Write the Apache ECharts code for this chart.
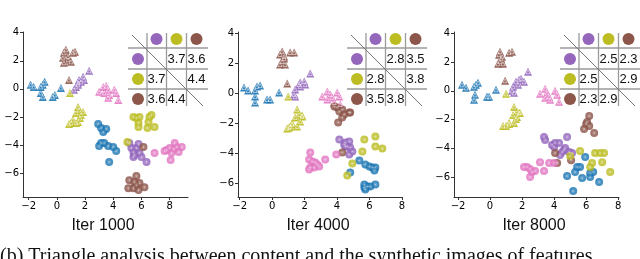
<!DOCTYPE html>
<html>
<head>
<meta charset="utf-8">
<script src="https://cdn.jsdelivr.net/npm/echarts@6/dist/echarts.min.js"></script>
<style>html,body{margin:0;padding:0;background:#fff;}#c{width:640px;height:259px;}</style>
</head>
<body>
<div id="c"></div>
<script>
// ---------- Tick labels ----------
const xTicks = [-2, 0, 2, 4, 6, 8];
const yTicks = [-6, -4, -2, 0, 2, 4];
const titles = ['Iter 1000', 'Iter 4000', 'Iter 8000'];
const caption = '(b) Triangle analysis between content and the synthetic images of features';

// ---------- Iter 1000 ----------
const p1BlueTri = [[-1.86,0.29],[-1.64,0.14],[-1.14,0.14],[-1.0,0.29],[-0.86,0.5],[-1.14,-0.29],[-1.0,-0.57],[-0.29,-0.57],[-0.14,-0.43],[0.29,0.07]];
const p1PurpleTri = [[2.29,1.29],[1.86,0.86],[1.57,0.64],[1.71,0.5],[1.5,0.29],[1.36,0.14],[1.21,-0.07],[1.93,0.64],[1.5,0.43]];
const p1BrownTri = [[0.5,2.57],[0.64,2.79],[0.43,2.21],[0.79,2.29],[0.5,1.86],[1.0,1.93],[1.14,2.57],[1.29,2.64],[0.79,2.07],[0.86,0.64]];
const p1OliveTri = [[0.93,-0.29],[1.5,-1.29],[1.57,-1.5],[1.36,-1.71],[1.71,-1.86],[1.86,-1.64],[1.5,-2.36],[1.36,-2.43],[1.14,-2.21],[1.0,-2.43],[0.86,-2.5],[1.64,-2.07]];
const p1PinkTri = [[3.0,-0.21],[3.29,0.14],[3.5,0.21],[3.64,-0.07],[3.71,-0.43],[3.64,-0.64],[4.07,-0.07],[4.21,-0.29],[4.36,-0.79],[3.36,-0.29]];
const p1BlueCir = [[2.93,-2.5],[3.14,-2.79],[3.29,-3.07],[3.5,-2.86],[3.14,-3.86],[3.36,-3.86],[3.64,-4.07],[4.0,-4.14],[4.21,-4.43],[3.0,-4.07],[3.71,-5.21]];
const p1PurpleCir = [[5.14,-3.86],[5.79,-3.93],[5.43,-4.5],[5.5,-4.71],[5.64,-4.21],[5.86,-4.57],[6.0,-4.86],[5.43,-4.86],[6.36,-5.21],[5.29,-4.21]];
const p1BrownCir = [[6.14,-4.14],[5.64,-6.21],[5.14,-6.5],[5.86,-6.71],[5.64,-6.86],[5.43,-7.07],[5.79,-7.21],[5.07,-7.07],[6.21,-7.0],[5.5,-6.64]];
const p1OliveCir = [[5.43,-2.0],[5.64,-2.07],[5.79,-2.43],[5.79,-2.71],[6.57,-2.0],[6.5,-2.36],[6.43,-2.79],[6.93,-2.71],[6.71,-1.86],[5.86,-2.0],[5.0,-3.79]];
const p1PinkCir = [[6.93,-4.57],[7.79,-4.36],[8.0,-4.21],[8.36,-3.86],[8.5,-4.14],[8.64,-4.5],[8.86,-4.14],[8.14,-4.57],[8.07,-5.07],[7.64,-4.43],[8.29,-4.29]];
const p1Table = [[null,'3.7','3.6'],['3.7',null,'4.4'],['3.6','4.4',null]];

// ---------- Iter 4000 ----------
const p2BlueTri = [[-1.73,0.4],[-1.48,0.2],[-1.05,0.2],[-0.93,0.47],[-0.74,0.53],[-1.05,-0.2],[-1.05,-0.6],[-0.31,-0.4],[-0.12,-0.4],[0.43,0.07]];
const p2PurpleTri = [[2.35,1.33],[1.98,0.8],[1.67,0.6],[1.73,0.47],[1.42,0.27],[1.36,-0.07],[1.42,-0.2],[2.04,0.6],[1.73,0.73]];
const p2BrownTri = [[0.62,2.8],[0.49,2.6],[0.74,2.47],[0.62,2.13],[0.49,1.93],[0.8,1.93],[1.11,2.73],[1.36,2.73],[0.74,2.33],[0.93,0.67]];
const p2OliveTri = [[0.99,-0.2],[1.54,-1.07],[1.67,-1.4],[1.42,-1.6],[1.85,-1.53],[1.73,-1.87],[1.23,-2.07],[1.11,-2.2],[1.85,-1.47],[1.23,-2.0],[1.05,-2.27],[1.54,-2.2],[0.93,-2.33]];
const p2PinkTri = [[3.09,-0.2],[3.4,0.13],[3.58,-0.07],[3.7,-0.27],[4.01,0.07],[4.14,-0.2],[4.2,-0.73],[3.4,-0.4],[3.83,-0.6]];
const p2BlueCir = [[5.37,-4.47],[5.74,-4.73],[5.99,-4.87],[6.17,-4.93],[6.36,-4.93],[6.3,-5.13],[4.81,-5.27],[5.68,-6.07],[5.86,-6.2],[6.05,-6.2],[6.36,-6.07],[5.74,-6.4],[5.68,-6.27]];
const p2PurpleCir = [[4.14,-3.07],[4.51,-3.27],[4.63,-3.53],[4.44,-3.4],[4.75,-3.2],[4.81,-3.6],[4.94,-3.87],[4.75,-4.07],[4.51,-3.53]];
const p2BrownCir = [[3.83,-0.87],[4.01,-0.93],[4.14,-1.2],[4.32,-1.07],[4.44,-1.4],[4.75,-1.27],[4.32,-1.6],[4.07,-1.93],[4.81,-1.27],[4.32,-3.93]];
const p2OliveCir = [[5.68,-3.07],[6.36,-2.87],[6.36,-3.53],[6.79,-3.67],[5.56,-3.87],[4.94,-4.67],[4.63,-5.47]];
const p2PinkCir = [[2.35,-3.93],[2.28,-4.4],[2.47,-4.53],[2.65,-4.6],[2.78,-4.73],[2.35,-4.93],[2.59,-4.93],[2.9,-4.87],[3.27,-4.4],[2.28,-5.07],[3.95,-4.07]];
const p2Table = [[null,'2.8','3.5'],['2.8',null,'3.8'],['3.5','3.8',null]];

// ---------- Iter 8000 ----------
const p3BlueTri = [[-1.75,0.42],[-1.5,0.21],[-1.0,0.28],[-0.88,0.42],[-0.75,0.56],[-0.94,-0.28],[-1.0,-0.63],[-0.19,-0.42],[-0.06,-0.42],[0.37,0.07]];
const p3PurpleTri = [[2.37,1.33],[1.94,0.84],[1.62,0.63],[1.75,0.42],[1.44,0.28],[1.37,0.0],[1.5,-0.14],[2.12,0.63],[1.81,0.77]];
const p3BrownTri = [[0.62,2.73],[0.56,2.52],[0.75,2.38],[0.62,2.03],[0.5,1.89],[0.81,1.89],[1.19,2.66],[1.37,2.73],[0.69,2.24],[0.94,0.7]];
const p3OliveTri = [[1.0,-0.21],[1.5,-1.12],[1.69,-1.47],[1.44,-1.68],[1.81,-1.54],[1.62,-1.96],[1.19,-2.31],[1.0,-2.45],[1.87,-1.54],[1.69,-1.82],[1.19,-2.24],[1.5,-2.24],[0.81,-2.45]];
const p3PinkTri = [[3.12,-0.21],[3.44,0.14],[3.56,-0.14],[3.69,-0.42],[3.75,-0.63],[4.06,0.0],[4.19,-0.28],[4.31,-0.77],[3.44,-0.49]];
const p3BlueCir = [[5.94,-4.62],[5.44,-5.31],[5.62,-5.31],[5.31,-5.66],[4.81,-5.94],[5.75,-6.08],[6.25,-5.73],[6.25,-6.01],[6.44,-5.66],[6.81,-6.36],[5.19,-6.99]];
const p3PurpleCir = [[3.37,-3.22],[3.44,-3.43],[4.06,-3.64],[4.31,-3.64],[4.0,-3.92],[3.87,-3.78],[4.81,-3.22],[4.62,-4.13],[4.69,-3.99],[4.5,-4.27],[4.94,-4.27],[5.12,-4.34],[4.37,-4.48]];
const p3BrownCir = [[6.19,-1.75],[6.06,-2.17],[6.0,-2.31],[6.19,-2.45],[5.87,-2.66],[6.5,-2.94],[4.06,-4.34],[4.19,-5.03],[5.06,-4.83]];
const p3OliveCir = [[5.0,-4.55],[5.62,-4.2],[6.56,-4.34],[6.87,-4.34],[7.0,-4.97],[6.37,-5.03],[6.25,-5.31],[7.5,-5.66],[7.12,-4.34]];
const p3PinkCir = [[2.12,-5.31],[2.31,-5.31],[2.5,-5.45],[2.81,-5.59],[2.62,-5.66],[3.12,-4.97],[3.37,-5.59],[3.69,-5.03],[4.0,-5.03],[2.5,-6.01]];
const p3Table = [[null,'2.5','2.3'],['2.5',null,'2.9'],['2.3','2.9',null]];

// ---------- Build ----------
const C = {blue:'#1f77b4', purple:'#9467bd', brown:'#8c564b', olive:'#bcbd22', pink:'#e377c2'};
const tableColors = [C.purple, C.olive, C.brown];

const panels = [
  {tri:{blue:p1BlueTri,purple:p1PurpleTri,brown:p1BrownTri,olive:p1OliveTri,pink:p1PinkTri},
   cir:{blue:p1BlueCir,purple:p1PurpleCir,brown:p1BrownCir,olive:p1OliveCir,pink:p1PinkCir},
   table:p1Table, grid:{left:23, width:165}, x:[-2.4,9.3], y:[-7.7,4.05], ox:138, tx:103},
  {tri:{blue:p2BlueTri,purple:p2PurpleTri,brown:p2BrownTri,olive:p2OliveTri,pink:p2PinkTri},
   cir:{blue:p2BlueCir,purple:p2PurpleCir,brown:p2BrownCir,olive:p2OliveCir,pink:p2PinkCir},
   table:p2Table, grid:{left:238, width:164}, x:[-2.1,8.0], y:[-6.9,4.1], ox:357, tx:318},
  {tri:{blue:p3BlueTri,purple:p3PurpleTri,brown:p3BrownTri,olive:p3OliveTri,pink:p3PinkTri},
   cir:{blue:p3BlueCir,purple:p3PurpleCir,brown:p3BrownCir,olive:p3OliveCir,pink:p3PinkCir},
   table:p3Table, grid:{left:454, width:165}, x:[-2.25,8.05], y:[-7.4,4.1], ox:570, tx:534}
];

const fmt = v => String(v).replace('-', '\u2212');
const grids = [], xAxes = [], yAxes = [], series = [], graphics = [];
const ASTER = 'path://M5,0L5,10M0,5L10,5M1.6,1.6L8.4,8.4M8.4,1.6L1.6,8.4';

panels.forEach((p, i) => {
  grids.push({left:p.grid.left, width:p.grid.width, top:32, height:165, containLabel:false});
  const axisCommon = {
    axisLine:{show:true, onZero:false, lineStyle:{color:'#333', width:1}},
    axisTick:{show:true, inside:false, length:3, lineStyle:{color:'#333'}},
    axisLabel:{color:'#000', fontFamily:'DejaVu Sans', fontSize:10, margin:4, formatter:fmt},
    splitLine:{show:false}
  };
  xAxes.push(Object.assign({type:'value', gridIndex:i, min:p.x[0], max:p.x[1]}, axisCommon,
    {axisLabel:Object.assign({}, axisCommon.axisLabel, {customValues:xTicks}),
     axisTick:Object.assign({}, axisCommon.axisTick, {customValues:xTicks})}));
  yAxes.push(Object.assign({type:'value', gridIndex:i, min:p.y[0], max:p.y[1]}, axisCommon,
    {axisLabel:Object.assign({}, axisCommon.axisLabel, {customValues:yTicks}),
     axisTick:Object.assign({}, axisCommon.axisTick, {customValues:yTicks})}));

  Object.keys(p.tri).forEach(k => {
    series.push({type:'scatter', xAxisIndex:i, yAxisIndex:i, data:p.tri[k], symbol:'triangle', symbolSize:8,
      itemStyle:{color:C[k], opacity:0.9}, silent:true, z:2});
    series.push({type:'scatter', xAxisIndex:i, yAxisIndex:i, data:p.tri[k], symbol:'triangle', symbolSize:4,
      itemStyle:{color:'rgba(0,0,0,0)', borderColor:'rgba(255,255,255,0.9)', borderWidth:0.7}, silent:true, z:3});
  });
  Object.keys(p.cir).forEach(k => {
    series.push({type:'scatter', xAxisIndex:i, yAxisIndex:i, data:p.cir[k], symbol:'circle', symbolSize:8,
      itemStyle:{color:C[k], opacity:0.82}, silent:true, z:2});
    series.push({type:'scatter', xAxisIndex:i, yAxisIndex:i, data:p.cir[k], symbol:ASTER, symbolSize:4,
      itemStyle:{color:'rgba(0,0,0,0)', borderColor:'rgba(255,255,255,0.42)', borderWidth:0.6}, silent:true, z:3});
  });

  // title
  graphics.push({type:'text', x:p.tx, y:226, z:5,
    style:{text:titles[i], fill:'#111', font:'16px "Liberation Sans", Arial, sans-serif', textAlign:'center', textVerticalAlign:'middle'}});

  // table
  const ox = p.ox;
  const colX = [ox+18.5, ox+38.5, ox+58.5];
  const rowY = [59, 79, 99];
  const lineStyle = {stroke:'#9a9a9a', lineWidth:1.3};
  [48, 69, 89].forEach(y => graphics.push({type:'line', shape:{x1:ox-10, y1:y, x2:ox+70, y2:y}, style:lineStyle, z:10}));
  [ox+9, ox+28.5, ox+48.5].forEach(x => graphics.push({type:'line', shape:{x1:x, y1:33, x2:x, y2:106}, style:lineStyle, z:10}));
  graphics.push({type:'line', shape:{x1:ox-6, y1:35, x2:ox+65, y2:106}, style:{stroke:'#777', lineWidth:1}, z:10});
  tableColors.forEach((c, j) => {
    graphics.push({type:'circle', shape:{cx:colX[j], cy:39, r:6}, style:{fill:c}, z:11});
    graphics.push({type:'circle', shape:{cx:ox, cy:rowY[j], r:6}, style:{fill:c}, z:11});
  });
  p.table.forEach((row, r) => row.forEach((v, cI) => {
    if (v === null) return;
    graphics.push({type:'text', x:colX[cI], y:rowY[r], z:12,
      style:{text:v, fill:'#111', font:'13px "Liberation Sans", Arial, sans-serif', textAlign:'center', textVerticalAlign:'middle'}});
  }));
});

graphics.push({type:'text', x:0, y:247, style:{text:caption, fill:'#111', font:'20px "Liberation Serif", "Times New Roman", serif'}});

const chart = echarts.init(document.getElementById('c'), null, {renderer:'canvas'});
chart.setOption({
  animation:false,
  backgroundColor:'#fff',
  grid:grids, xAxis:xAxes, yAxis:yAxes, series:series, graphic:graphics
});
</script>
</body>
</html>
